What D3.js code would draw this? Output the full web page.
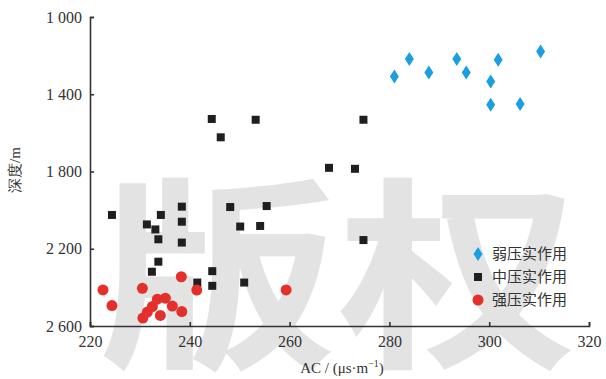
<!DOCTYPE html>
<html lang="zh">
<head>
<meta charset="UTF-8">
<title>AC - 深度</title>
<script src="https://d3js.org/d3.v7.min.js"></script>
<style>
  body { margin: 0; background: #fff; }
  svg text { font-family: "Liberation Serif", "DejaVu Serif", serif; fill: #333; }
</style>
</head>
<body>
<div id="chart"></div>
<script>
// 弱压实作用
const weakAC    = [281.0, 284.0, 287.9, 293.5, 295.4, 301.8, 300.3, 300.3, 306.2, 310.3];
const weakDepth = [1308, 1217, 1287, 1217, 1287, 1222, 1334, 1454, 1451, 1179];
// 中压实作用
const midAC    = [224.4, 231.4, 233.1, 234.2, 233.7, 238.4, 238.4, 238.4, 233.7, 232.4, 241.5, 244.5, 244.5,
                  244.4, 246.2, 253.2, 274.8, 267.9, 273.1, 248.1, 255.4, 250.1, 254.1, 274.8, 250.9];
const midDepth = [2025, 2074, 2100, 2025, 2151, 1982, 2060, 2168, 2267, 2319, 2375, 2316, 2392,
                  1528, 1623, 1532, 1532, 1781, 1786, 1984, 1979, 2085, 2082, 2155, 2375];
// 强压实作用
const strongAC    = [222.6, 224.4, 230.5, 238.3, 241.4, 238.4, 236.5, 234.1, 230.6, 233.5, 235.1, 232.5, 231.5, 259.3];
const strongDepth = [2413, 2494, 2405, 2345, 2414, 2525, 2497, 2545, 2559, 2461, 2456, 2499, 2528, 2413];

const xTicks = [220, 240, 260, 280, 300, 320];
const yTicks = [1000, 1400, 1800, 2200, 2600];
const legendNames = ["弱压实作用", "中压实作用", "强压实作用"];

const W = 606, H = 379;
const margin = { top: 17, right: 17, bottom: 53, left: 90 };

const svg = d3.select("#chart").append("svg")
  .attr("width", W).attr("height", H);

const x = d3.scaleLinear().domain([220, 320]).range([margin.left, W - margin.right]);
const y = d3.scaleLinear().domain([1000, 2600]).range([margin.top, H - margin.bottom]);

// watermark
svg.append("text")
  .attr("transform", "translate(98,352) scale(1,0.85)")
  .style("font-family", "'Noto Sans CJK SC'")
  .style("font-size", "240px")
  .style("font-weight", "bold")
  .style("fill", "#e3e3e3")
  .text("版权");

// axes
const fmt = d => d3.format(",")(d).replace(",", " ");

const gx = svg.append("g")
  .attr("transform", "translate(0," + y(2600) + ")")
  .call(d3.axisBottom(x).tickValues(xTicks).tickSize(-4).tickPadding(10));
const gy = svg.append("g")
  .attr("transform", "translate(" + x(220) + ",0)")
  .call(d3.axisLeft(y).tickValues(yTicks).tickSize(-4).tickPadding(8).tickFormat(fmt));

[gx, gy].forEach(g => {
  g.select(".domain").attr("stroke", "#333").attr("stroke-width", 1.6);
  g.selectAll(".tick line").attr("stroke", "#333").attr("stroke-width", 1.6);
  g.selectAll(".tick text").style("font-size", "16px").style("fill", "#333")
    .style("font-family", "'Liberation Serif', serif");
});

// points
const diamondPath = "M0,-7L4.5,0L0,7L-4.5,0Z";

svg.append("g").selectAll("path")
  .data(weakAC.map((v, i) => [v, weakDepth[i]]))
  .join("path")
  .attr("d", diamondPath)
  .attr("transform", d => "translate(" + x(d[0]) + "," + y(d[1]) + ")")
  .attr("fill", "#1b9fe0");

svg.append("g").selectAll("rect")
  .data(midAC.map((v, i) => [v, midDepth[i]]))
  .join("rect")
  .attr("x", d => x(d[0]) - 4).attr("y", d => y(d[1]) - 4)
  .attr("width", 8).attr("height", 8)
  .attr("fill", "#1f1f1f");

svg.append("g").selectAll("circle")
  .data(strongAC.map((v, i) => [v, strongDepth[i]]))
  .join("circle")
  .attr("cx", d => x(d[0])).attr("cy", d => y(d[1]))
  .attr("r", 5.5)
  .attr("fill", "#e4302b");

// axis titles
svg.append("text")
  .attr("transform", "translate(20," + 170 + ") rotate(-90)")
  .attr("text-anchor", "middle")
  .style("font-size", "15px")
  .text("深度/m");

svg.append("text")
  .attr("x", 342).attr("y", 373)
  .attr("text-anchor", "middle")
  .style("font-size", "15px")
  .html("AC / (μs·m<tspan dy='-6' font-size='10'>−1</tspan><tspan dy='6'>)</tspan>");

// legend
const legend = svg.append("g").attr("transform", "translate(478,254)");
const rows = legend.selectAll("g").data(legendNames).join("g")
  .attr("transform", (d, i) => "translate(0," + (i * 23) + ")");
rows.each(function(d, i) {
  const g = d3.select(this);
  if (i === 0) g.append("path").attr("d", diamondPath).attr("fill", "#1b9fe0");
  if (i === 1) g.append("rect").attr("x", -4).attr("y", -4).attr("width", 8).attr("height", 8).attr("fill", "#1f1f1f");
  if (i === 2) g.append("circle").attr("r", 5.5).attr("fill", "#e4302b");
  g.append("text").attr("x", 14).attr("dy", "0.35em")
    .style("font-size", "15px")
    .style("font-family", "'Noto Sans CJK SC', serif")
    .text(d);
});
</script>
</body>
</html>
